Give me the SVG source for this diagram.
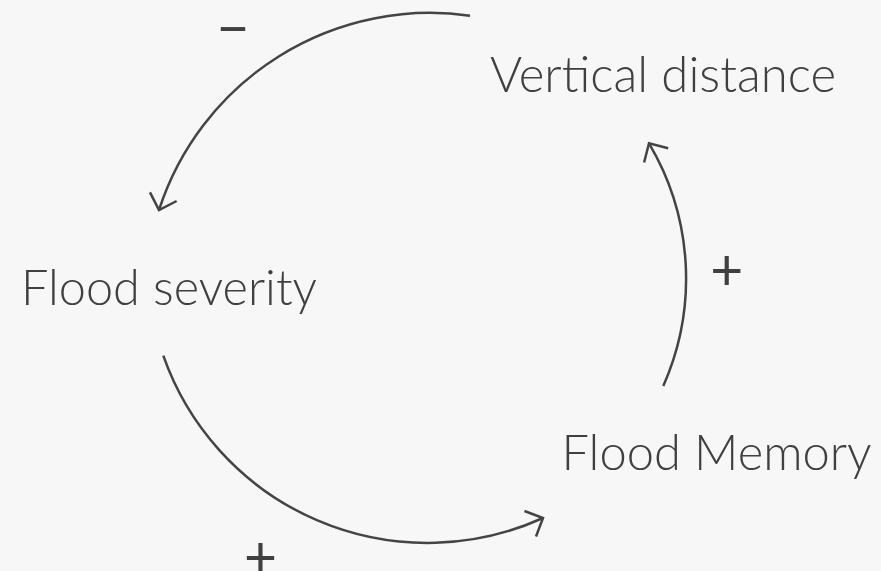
<svg xmlns="http://www.w3.org/2000/svg" width="881" height="571" viewBox="0 0 881 571">
<style>
.lbl{font-family:Lato,"Noto Sans","Liberation Sans",sans-serif;font-weight:300;font-size:49px;fill:#404040}
.sign{font-family:Lato,"Noto Sans","Liberation Sans",sans-serif;font-weight:400;font-size:58px;fill:#404040;text-anchor:middle}
.link{fill:none;stroke:#444444;stroke-width:2.5}
</style>
<defs>
<marker id="arrow" markerUnits="userSpaceOnUse" markerWidth="40" markerHeight="40" refX="20" refY="20" orient="auto" viewBox="0 0 40 40">
<path d="M6,6 L20,20 L6,34" fill="none" stroke="#444444" stroke-width="2.5"/>
</marker>
</defs>
<rect width="881" height="571" fill="#f7f7f7"/>
<g id="connectors">
<path class="link" d="M470,15.7 A285,285 0 0 0 159,210" marker-end="url(#arrow)"/>
<path class="link" d="M163.3,355.7 A280,280 0 0 0 543,518" marker-end="url(#arrow)"/>
<path class="link" d="M663.3,386 A265,265 0 0 0 649,143.3" marker-end="url(#arrow)"/>
</g>
<g id="vertical-distance"><text class="lbl" x="490" y="92" textLength="346" lengthAdjust="spacingAndGlyphs">Vertical distance</text></g>
<g id="flood-severity"><text class="lbl" x="21" y="304.5" textLength="296" lengthAdjust="spacingAndGlyphs">Flood severity</text></g>
<g id="flood-memory"><text class="lbl" x="561.5" y="470" textLength="310" lengthAdjust="spacingAndGlyphs">Flood Memory</text></g>
<g id="signs">
<text class="sign" x="233" y="49" textLength="33" lengthAdjust="spacingAndGlyphs">−</text>
<text class="sign" x="726.7" y="290" textLength="33" lengthAdjust="spacingAndGlyphs">+</text>
<text class="sign" x="260.5" y="577" textLength="33" lengthAdjust="spacingAndGlyphs">+</text>
</g>
</svg>
